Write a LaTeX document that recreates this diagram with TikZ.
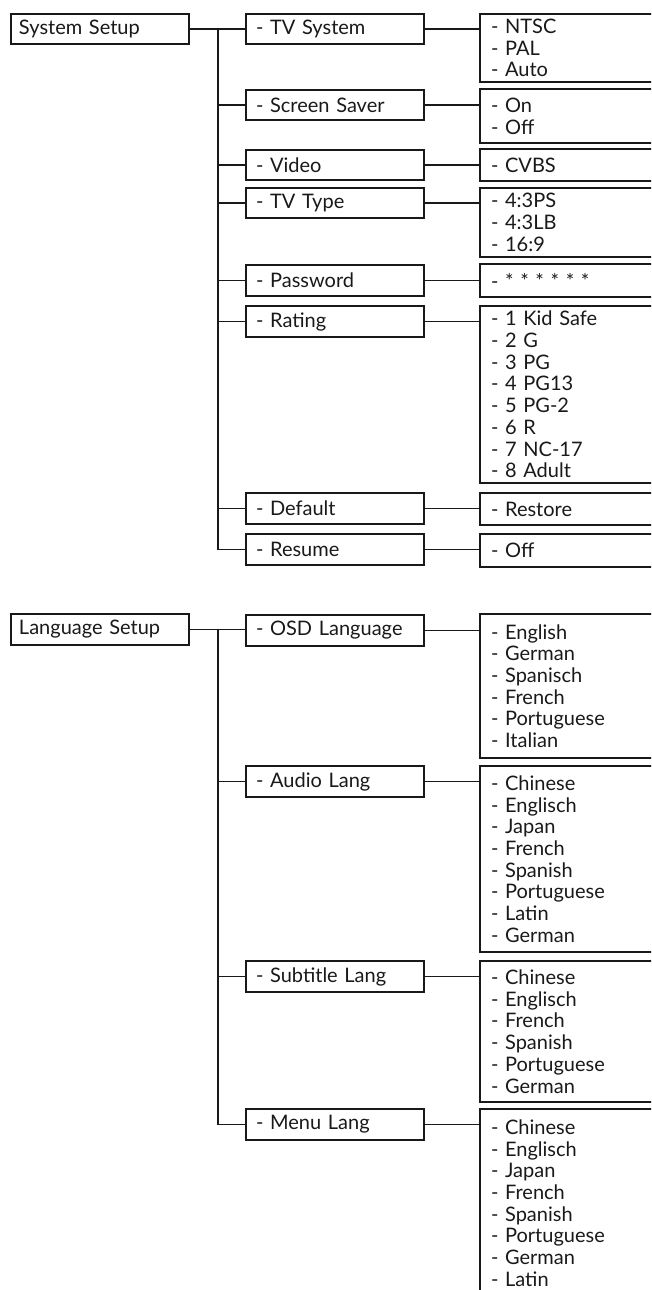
\documentclass[tikz,border=0pt]{standalone}
\usepackage{fontspec}
\setmainfont{Lato}
\begin{document}
\begin{tikzpicture}[x=1pt,y=-1pt,
  every node/.style={font=\fontsize{20pt}{21.7pt}\selectfont, text=black!90},
  mainbox/.style={draw=black!90, line width=2pt, anchor=north west, minimum width=178pt,
    text width=162pt, inner xsep=8pt, inner ysep=0pt, align=left},
  subbox/.style={draw=black!90, line width=2pt, anchor=north west, minimum width=178pt,
    text width=158pt, inner xsep=10pt, inner ysep=0pt, align=left},
  listbox/.style={draw=black!90, line width=2pt, anchor=north west, minimum width=200pt,
    text width=178pt, inner xsep=11pt, inner ysep=0pt, align=left},
  conn/.style={draw=black!90, line width=1.7pt}]
\useasboundingbox (0,0) rectangle (651,1290);
\clip (0,0) rectangle (651,1290);

% ---------------- System Setup ----------------
\node[mainbox, minimum height=30pt] (sys) at (10,13) {System Setup};

\node[subbox, minimum height=30pt] (tvs) at (245,13) {- TV System};
\node[subbox, minimum height=30pt] (ss)  at (245,89) {- Screen Saver};
\node[subbox, minimum height=30pt] (vid) at (245,149) {- Video};
\node[subbox, minimum height=30pt] (tvt) at (245,187) {- TV Type};
\node[subbox, minimum height=31pt] (pw)  at (245,264) {- Password};
\node[subbox, minimum height=31pt] (rat) at (245,305) {- Rating};
\node[subbox, minimum height=31pt] (def) at (245,492) {- Default};
\node[subbox, minimum height=31pt] (res) at (245,533) {- Resume};

\node[listbox, minimum height=68pt] (tvsL) at (479,13) {- NTSC\\- PAL\\- Auto};
\node[listbox, minimum height=54pt] (ssL)  at (479,88) {- On\\- Off};
\node[listbox, minimum height=32pt] (vidL) at (479,148) {- CVBS};
\node[listbox, minimum height=69pt] (tvtL) at (479,187) {- 4:3PS\\- 4:3LB\\- 16:9};
\node[listbox, minimum height=33pt] (pwL)  at (479,263) {- * * * * * *};
\node[listbox, minimum height=177pt] (ratL) at (479,305) {- 1 Kid Safe\\- 2 G\\- 3 PG\\- 4 PG13\\- 5 PG-2\\- 6 R\\- 7 NC-17\\- 8 Adult};
\node[listbox, minimum height=32pt] (defL) at (479,492) {- Restore};
\node[listbox, minimum height=33pt] (resL) at (479,533) {- Off};

\coordinate (t1) at (218,0);
\draw[conn] (sys.east) -- (tvs.west);
\draw[conn] (t1 |- tvs.west) |- (res.west);
\foreach \n in {ss,vid,tvt,pw,rat,def}{
  \draw[conn] (t1 |- \n.west) -- (\n.west);
}
\foreach \n in {tvs,ss,vid,tvt,pw,rat,def,res}{
  \draw[conn] (\n.east) -- (\n.east -| \n L.west);
}

% ---------------- Language Setup ----------------
\node[mainbox, minimum height=31pt] (lang) at (10,613) {Language Setup};

\node[subbox, minimum height=31pt] (osd) at (245,614) {- OSD Language};
\node[subbox, minimum height=31pt] (aud) at (245,765) {- Audio Lang};
\node[subbox, minimum height=31pt] (sub) at (245,960) {- Subtitle Lang};
\node[subbox, minimum height=31pt] (men) at (245,1108) {- Menu Lang};

\node[listbox, minimum height=144pt] (osdL) at (479,613) {- English\\- German\\- Spanisch\\- French\\- Portuguese\\- Italian};
\node[listbox, minimum height=186pt] (audL) at (479,765) {- Chinese\\- Englisch\\- Japan\\- French\\- Spanish\\- Portuguese\\- Latin\\- German};
\node[listbox, minimum height=141pt] (subL) at (479,960) {- Chinese\\- Englisch\\- French\\- Spanish\\- Portuguese\\- German};
\node[listbox, minimum height=188pt] (menL) at (479,1108) {- Chinese\\- Englisch\\- Japan\\- French\\- Spanish\\- Portuguese\\- German\\- Latin};

\draw[conn] (lang.east) -- (lang.east -| osd.west);
\draw[conn] (t1 |- lang.east) |- (men.west);
\foreach \n in {aud,sub}{
  \draw[conn] (t1 |- \n.west) -- (\n.west);
}
\foreach \n in {osd,aud,sub,men}{
  \draw[conn] (\n.east) -- (\n.east -| \n L.west);
}
\end{tikzpicture}
\end{document}
